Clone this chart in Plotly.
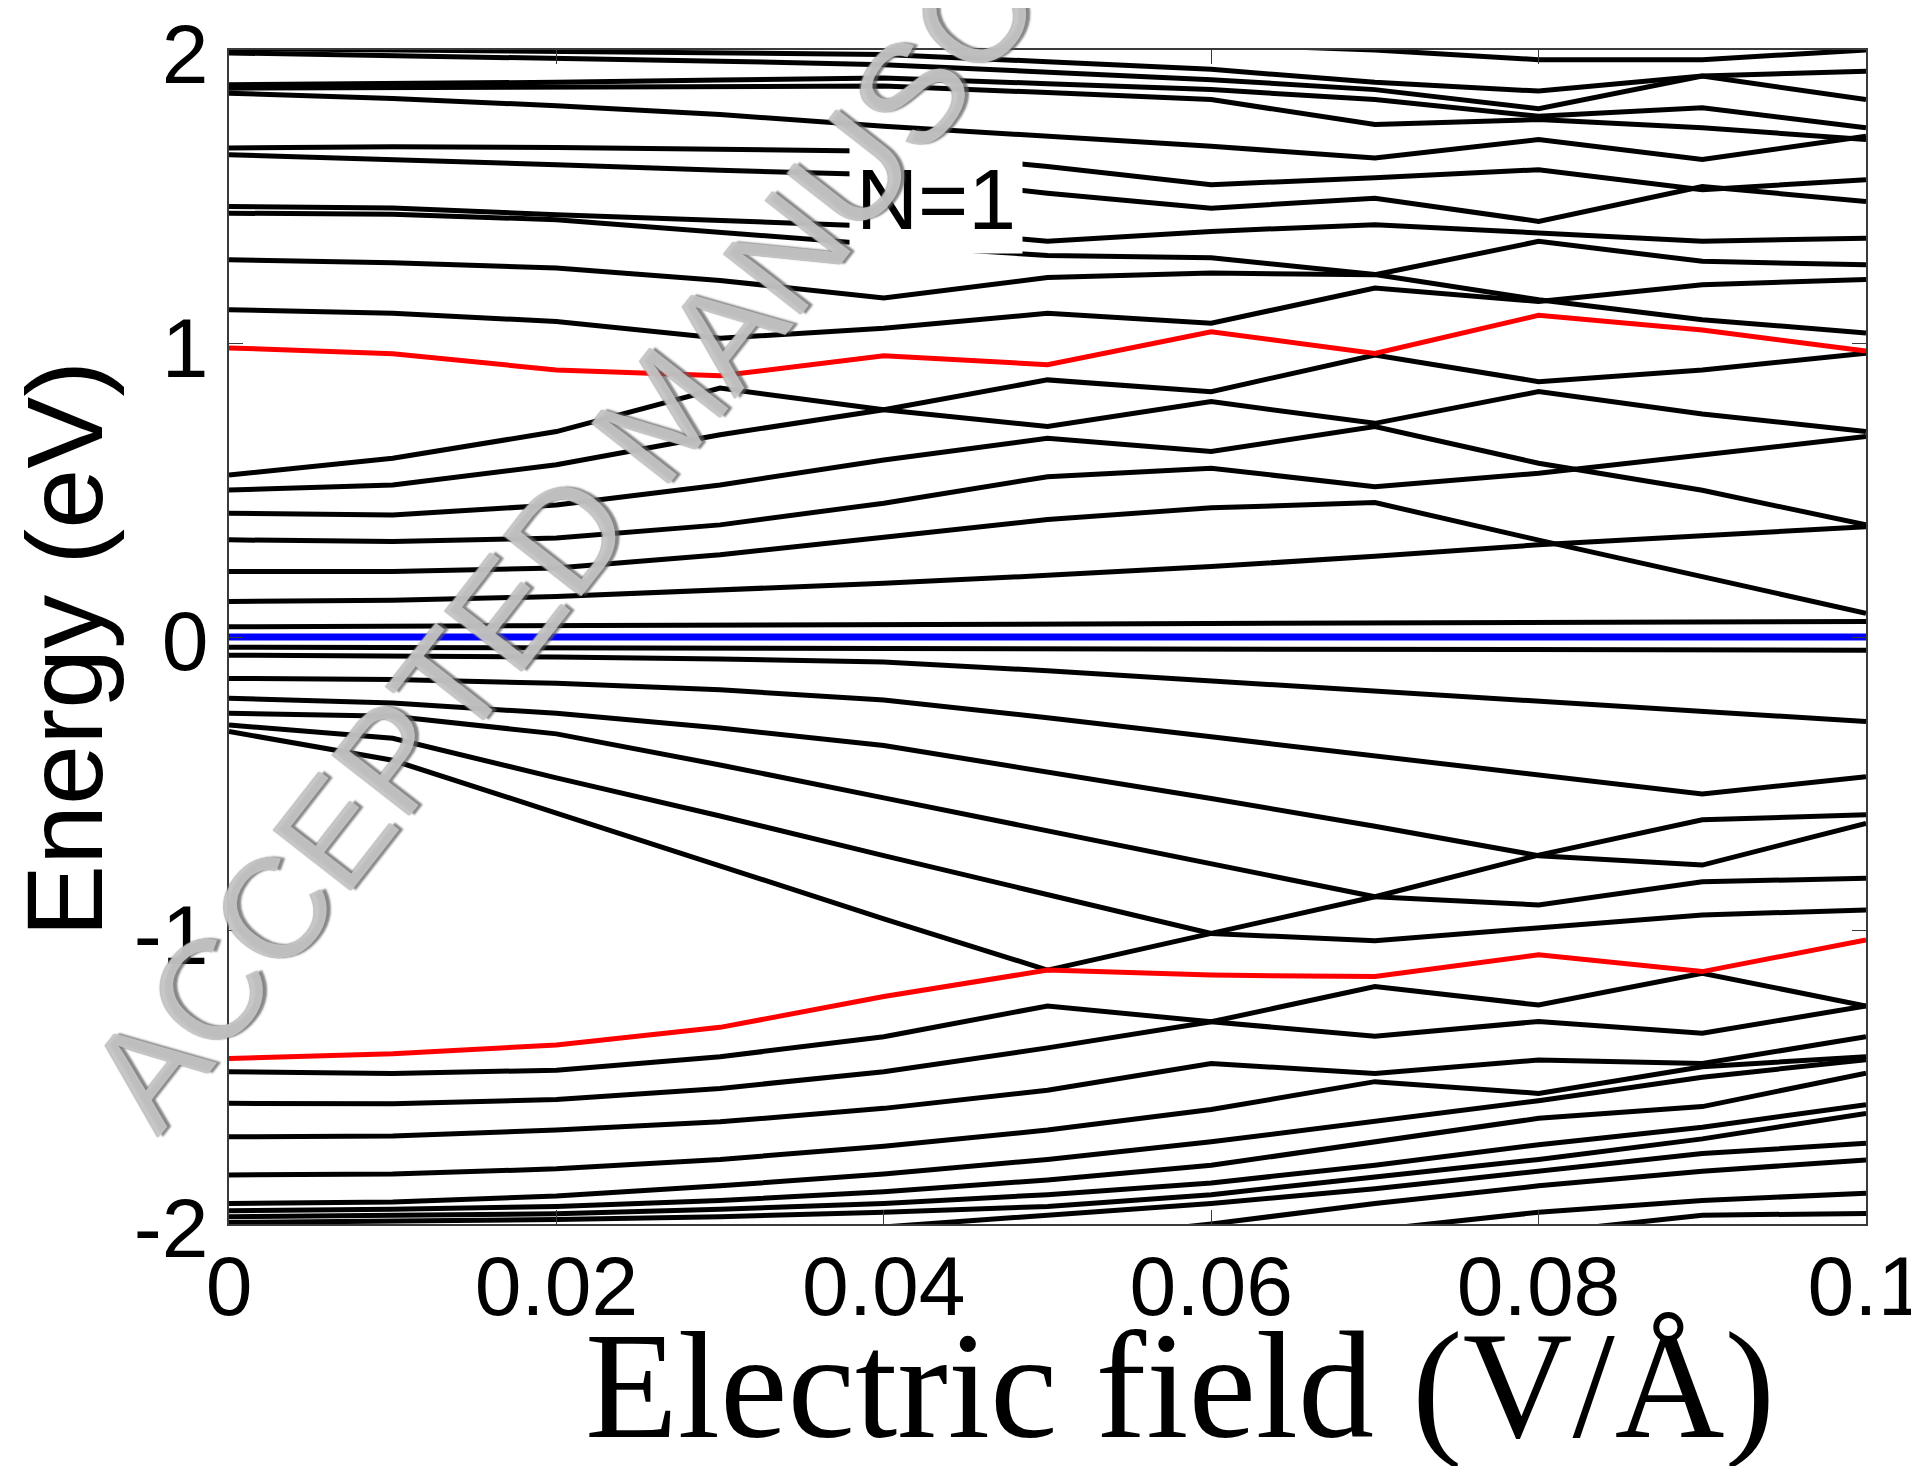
import plotly.graph_objects as go

# Electric field values (V/Å)
field = [0.00, 0.01, 0.02, 0.03, 0.04, 0.05, 0.06, 0.07, 0.08, 0.09, 0.10]

# ---- black energy levels (eV) ----
tB  = [2.08, 2.07, 2.06, 2.05, 2.04, 2.03, 2.02, 2.0, 1.967, 1.967, 2.0]
tA  = [2.005, 2.0, 1.997, 1.992, 1.985, 1.96, 1.934, 1.89, 1.86, 1.911, 1.928]
tA2 = [1.99, 1.982, 1.972, 1.962, 1.95, 1.925, 1.899, 1.865, 1.80, 1.911, 1.831]
tC  = [1.882, 1.885, 1.89, 1.898, 1.905, 1.885, 1.865, 1.831, 1.774, 1.803, 1.735]
tD  = [1.870, 1.872, 1.874, 1.876, 1.877, 1.855, 1.831, 1.746, 1.763, 1.735, 1.695]
tE  = [1.853, 1.835, 1.81, 1.78, 1.74, 1.705, 1.672, 1.632, 1.695, 1.627, 1.706]
tF  = [1.666, 1.670, 1.668, 1.662, 1.655, 1.603, 1.541, 1.565, 1.592, 1.524, 1.558]
tG  = [1.643, 1.627, 1.609, 1.59, 1.575, 1.512, 1.461, 1.495, 1.416, 1.535, 1.484]
tH  = [1.467, 1.462, 1.439, 1.42, 1.399, 1.348, 1.382, 1.405, 1.376, 1.348, 1.359]
tI  = [1.444, 1.44, 1.422, 1.38, 1.336, 1.30, 1.292, 1.235, 1.149, 1.081, 1.036]
tJ  = [1.285, 1.275, 1.257, 1.215, 1.155, 1.225, 1.24, 1.234, 1.348, 1.28, 1.268]
tK  = [1.115, 1.103, 1.075, 1.018, 1.052, 1.103, 1.069, 1.189, 1.143, 1.2, 1.218]

Z0 = [0.501, 0.518, 0.587, 0.689, 0.774, 0.876, 0.836, 0.961, 0.87, 0.91, 0.967]
Z1 = [0.552, 0.609, 0.70, 0.848, 0.774, 0.717, 0.802, 0.728, 0.836, 0.76, 0.70]
Z2 = [0.422, 0.416, 0.45, 0.518, 0.603, 0.677, 0.632, 0.717, 0.592, 0.50, 0.382]
Z3 = [0.331, 0.325, 0.337, 0.382, 0.456, 0.546, 0.575, 0.512, 0.558, 0.62, 0.683]
Z4 = [0.223, 0.223, 0.235, 0.28, 0.34, 0.40, 0.44, 0.458, 0.33, 0.206, 0.081]
Z5 = [0.121, 0.125, 0.138, 0.16, 0.183, 0.21, 0.24, 0.275, 0.314, 0.345, 0.376]
U1 = [0.035, 0.037, 0.039, 0.041, 0.042, 0.043, 0.043, 0.045, 0.048, 0.052, 0.053]

L1 = [-0.035, -0.036, -0.037, -0.038, -0.039, -0.04, -0.04, -0.041, -0.042, -0.044, -0.045]
L2 = [-0.062, -0.064, -0.068, -0.075, -0.085, -0.115, -0.15, -0.185, -0.22, -0.255, -0.288]
L3 = [-0.141, -0.145, -0.158, -0.18, -0.215, -0.275, -0.34, -0.405, -0.47, -0.535, -0.476]
L4 = [-0.209, -0.225, -0.26, -0.31, -0.37, -0.46, -0.55, -0.645, -0.745, -0.777, -0.635]
L5 = [-0.26, -0.27, -0.33, -0.436, -0.548, -0.66, -0.773, -0.885, -0.913, -0.834, -0.822]
P6 = [-0.30, -0.345, -0.48, -0.61, -0.745, -0.877, -1.010, -1.035, -0.99, -0.947, -0.93]
P7 = [-0.322, -0.42, -0.60, -0.78, -0.96, -1.135, None, None, None, None, None]
RISE = [None, None, None, None, None, -1.135, -1.010, -0.885, -0.743, -0.623, -0.606]

Q1 = [-1.481, -1.487, -1.476, -1.43, -1.362, -1.257, -1.311, -1.36, -1.31, -1.35, -1.257]
Q2 = [-1.589, -1.59, -1.576, -1.538, -1.481, -1.40, -1.311, -1.191, -1.254, -1.146, -1.257]
Q3 = [-1.703, -1.70, -1.68, -1.652, -1.606, -1.544, -1.453, -1.487, -1.441, -1.453, -1.362]
Q4 = [-1.833, -1.83, -1.812, -1.78, -1.735, -1.68, -1.61, -1.515, -1.555, -1.464, -1.43]
Q5 = [-1.93, -1.925, -1.905, -1.87, -1.83, -1.78, -1.72, -1.65, -1.58, -1.50, -1.44]
Q6 = [-1.955, -1.95, -1.94, -1.92, -1.89, -1.85, -1.80, -1.72, -1.64, -1.60, -1.486]
Q7 = [-1.975, -1.972, -1.965, -1.95, -1.93, -1.90, -1.86, -1.80, -1.73, -1.67, -1.594]
Q8 = [-1.995, -1.99, -1.985, -1.975, -1.96, -1.94, -1.90, -1.84, -1.78, -1.71, -1.623]
Q9 = [-2.12, -2.1, -2.08, -2.05, -2.01, -1.97, -1.93, -1.88, -1.82, -1.76, -1.725]
Q10 = [-2.25, -2.22, -2.19, -2.15, -2.11, -2.06, -2.0, -1.93, -1.87, -1.82, -1.782]
Q11 = [-2.35, -2.32, -2.28, -2.24, -2.19, -2.14, -2.09, -2.02, -1.96, -1.92, -1.895]
Q12 = [-2.45, -2.42, -2.38, -2.33, -2.28, -2.22, -2.16, -2.1, -2.03, -1.97, -1.964]

# ---- highlighted levels ----
red_upper = [0.985, 0.965, 0.91, 0.89, 0.958, 0.928, 1.04, 0.966, 1.096, 1.046, 0.974]
red_lower = [-1.436, -1.42, -1.39, -1.33, -1.225, -1.135, -1.152, -1.157, -1.083, -1.14, -1.032]
fermi = [0.0] * len(field)

black_levels = [tB, tA, tA2, tC, tD, tE, tF, tG, tH, tI, tJ, tK,
                Z0, Z1, Z2, Z3, Z4, Z5, U1,
                L1, L2, L3, L4, L5, P6, P7, RISE,
                Q1, Q2, Q3, Q4, Q5, Q6, Q7, Q8, Q9, Q10, Q11, Q12]

x_ticks = [0, 0.02, 0.04, 0.06, 0.08, 0.1]
x_ticklabels = ["0", "0.02", "0.04", "0.06", "0.08", "0.1"]
y_ticks = [-2, -1, 0, 1, 2]
y_ticklabels = ["-2", "-1", "0", "1", "2"]

fig = go.Figure()
for lev in black_levels:
    fig.add_trace(go.Scatter(x=field, y=lev, mode="lines",
                             line=dict(color="black", width=5),
                             showlegend=False, hoverinfo="skip"))
for lev in (red_upper, red_lower):
    fig.add_trace(go.Scatter(x=field, y=lev, mode="lines",
                             line=dict(color="#ff0000", width=5),
                             showlegend=False, hoverinfo="skip"))
fig.add_trace(go.Scatter(x=field, y=fermi, mode="lines",
                         line=dict(color="#0000ff", width=7),
                         showlegend=False, hoverinfo="skip"))

# page body has an 8px margin: figure is laid out so the axes box lands at
# screen x 229..1866, y 50..1224
OFF = 8
W, H = 1919 - OFF, 1466 - OFF
PL, PR, PT, PB = 229, 1866, 50, 1224
L, T = PL - OFF, PT - OFF
R, B = W - (PR - OFF), H - (PB - OFF)

def px_to_paper(sx, sy):
    return (sx - PL) / (PR - PL), (PB - sy) / (PB - PT)

tickfont = dict(family="Liberation Sans, Arial, sans-serif", size=84, color="black")
axis_common = dict(showgrid=False, zeroline=False, showline=True, linecolor="#3a3a3a",
                   linewidth=1.5, mirror="ticks", ticks="inside", ticklen=14,
                   tickwidth=1.2, tickcolor="#3a3a3a", tickfont=tickfont,
                   ticklabeloverflow="allow", automargin=False)

fig.update_layout(
    width=W, height=H,
    margin=dict(l=L, r=R, t=T, b=B),
    paper_bgcolor="white", plot_bgcolor="white",
    xaxis=dict(range=[0, 0.1], tickvals=x_ticks, ticktext=x_ticklabels,
               ticklabelstandoff=-12, **axis_common),
    yaxis=dict(range=[-2, 2], tickvals=y_ticks, ticktext=y_ticklabels,
               ticklabelstandoff=2, ticklabelshift=4, **axis_common),
)

ax, ay = px_to_paper(64, 649)
fig.add_annotation(text="Energy (eV)", xref="paper", yref="paper", x=ax, y=ay,
                   textangle=-90, showarrow=False, xanchor="center", yanchor="middle",
                   font=dict(family="Liberation Sans, Arial, sans-serif", size=108, color="black"))

bx, by = px_to_paper(1180, 1386)
fig.add_annotation(text="Electric field (V/Å)", xref="paper", yref="paper", x=bx, y=by,
                   showarrow=False, xanchor="center", yanchor="middle",
                   font=dict(family="Liberation Serif, Times New Roman, serif", size=152, color="black"))

fig.add_annotation(text="N=1", xref="x", yref="y", x=0.0432, y=1.493, showarrow=False,
                   bgcolor="white", borderpad=6, xanchor="center", yanchor="middle",
                   font=dict(family="Liberation Sans, Arial, sans-serif", size=86, color="black"))

wx, wy = px_to_paper(662, 412)
fig.add_annotation(text="ACCEPTED MANUSCRIPT", xref="paper", yref="paper", x=wx, y=wy,
                   textangle=-52, showarrow=False, xanchor="center", yanchor="middle",
                   font=dict(family="Liberation Sans, Arial, sans-serif", size=143,
                             color="rgba(200,200,200,0.88)",
                             shadow="3px 3px 2px rgba(95,95,95,0.85), -1px -1px 1px rgba(150,150,150,0.7)"))

fig.write_html("out.html")
